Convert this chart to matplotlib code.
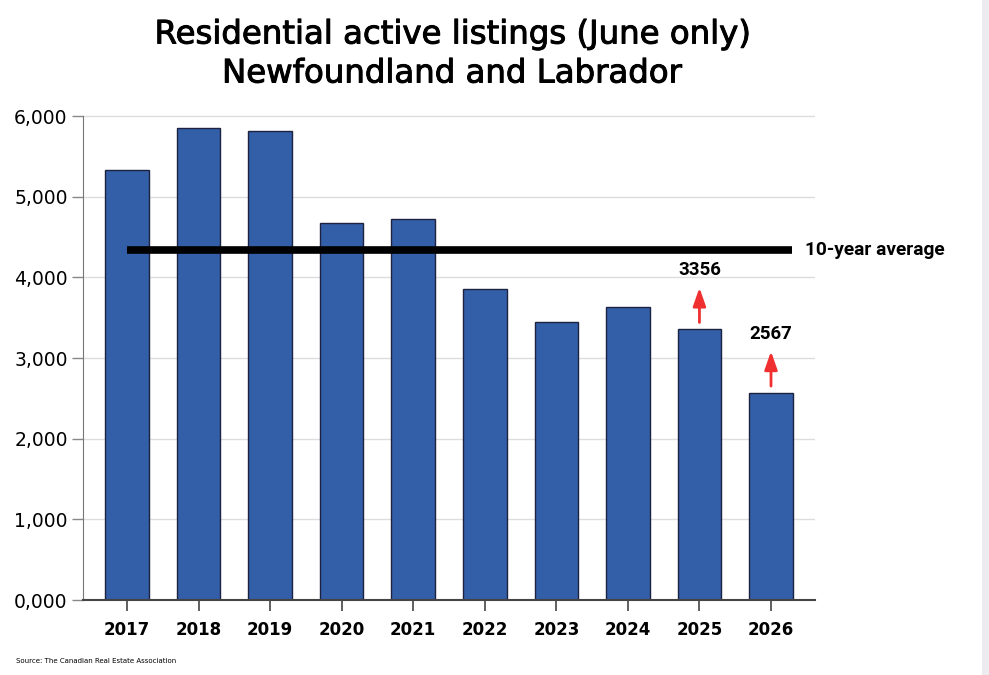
import matplotlib
matplotlib.use("Agg")
import matplotlib.pyplot as plt
import matplotlib.patheffects as pe
from matplotlib.patches import Rectangle

years = ["2017", "2018", "2019", "2020", "2021", "2022", "2023", "2024", "2025", "2026"]
listings = [5330, 5850, 5820, 4670, 4720, 3855, 3450, 3630, 3356, 2567]
ten_year_avg = 4335
labelled = {8: "3356", 9: "2567"}

fig = plt.figure(figsize=(9.89, 6.75), dpi=100)
ax = fig.add_axes([83 / 989, 75 / 675, (815 - 83) / 989, (600 - 116) / 675 * 6300 / 6000])

# light strip on the right edge
fig.patches.append(Rectangle((982 / 989, 0), 7 / 989, 1, transform=fig.transFigure,
                             facecolor="#ebebf0", edgecolor="none"))

x = list(range(len(years)))
ax.bar(x, listings, width=0.61, color="#335ea8", edgecolor="#1c2240", linewidth=1.0, zorder=2)

# 10-year average line
ax.plot([0, 9.3], [ten_year_avg, ten_year_avg], color="black", linewidth=5.5,
        solid_capstyle="butt", zorder=3)
ax.text(9.48, ten_year_avg, "10-year average", fontsize=13.8, fontweight="bold",
        va="center", ha="left", family="Roboto", clip_on=False)

for i, lab in labelled.items():
    v = listings[i]
    ax.annotate("", xy=(i, v + 550), xytext=(i, v + 50),
                arrowprops=dict(arrowstyle="-|>,head_width=0.35,head_length=1.0",
                                color="#f03030", lw=2, mutation_scale=11))
    ax.text(i, v + 730, lab, fontsize=13.5, fontweight="bold", ha="center", va="center",
            family="Roboto")

ax.set_xlim(-0.615, 9.615)
ax.set_ylim(0, 6300)
ax.set_xticks(x)
ax.set_xticklabels(years, fontsize=12, fontweight="bold")
ax.set_yticks(range(0, 7000, 1000))
ax.set_yticklabels(["0,000", "1,000", "2,000", "3,000", "4,000", "5,000", "6,000"], fontsize=13.5)
ax.tick_params(axis="x", length=8, width=1.2, color="#444444", pad=7)
ax.tick_params(axis="y", length=8, width=1, color="#888888", pad=3)
ax.grid(axis="y", color="#dddddd", linewidth=1, zorder=0)
ax.set_axisbelow(True)
for s in ["top", "right"]:
    ax.spines[s].set_visible(False)
ax.spines["left"].set_color("#777777")
ax.spines["left"].set_bounds(0, 6000)
ax.spines["bottom"].set_color("#444444")
ax.spines["bottom"].set_linewidth(1.5)

# slightly thickened strokes to get a medium weight
title_font = dict(ha="center", va="center", fontsize=23.3, family="DejaVu Sans",
                  path_effects=[pe.withStroke(linewidth=0.7, foreground="black")])
fig.text(452 / 989, 1 - 35 / 675, "Residential active listings (June only)",
         **title_font)
fig.text(452 / 989, 1 - 74 / 675, "Newfoundland and Labrador", **title_font)
fig.text(16 / 989, 1 - 661 / 675, "Source: The Canadian Real Estate Association",
         fontsize=5, va="center", ha="left")

fig.savefig("out.png", dpi=100)
